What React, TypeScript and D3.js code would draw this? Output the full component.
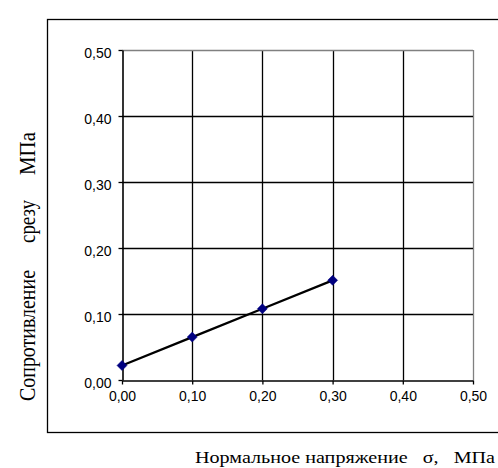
import React, { useEffect, useRef } from "react";
import * as d3 from "d3";

// normal stress sigma, MPa
const sigma = [0.0, 0.1, 0.2, 0.3];
// shear resistance, MPa
const tau = [0.022, 0.065, 0.108, 0.151];
const xTicks = [0, 0.1, 0.2, 0.3, 0.4, 0.5];
const yTicks = [0, 0.1, 0.2, 0.3, 0.4, 0.5];
const xTitle = "Нормальное напряжение   σ,   МПа";
const yTitleWords = ["Сопротивление", "срезу", "МПа"];

const fmt = (v: number) => v.toFixed(2).replace(".", ",");
const serif = "Liberation Serif, Times New Roman, serif";
const sans = "Liberation Sans, Arial, sans-serif";

const App = () => {
  const svgRef = useRef<SVGSVGElement>(null);

  useEffect(() => {
    const svg = d3.select(svgRef.current);
    svg.selectAll("*").remove();

    const W = 498;
    const H = 468;
    const plot = { left: 122, top: 50, right: 473, bottom: 380 };

    const x = d3.scaleLinear().domain([0, 0.5]).range([plot.left, plot.right]);
    const y = d3.scaleLinear().domain([0, 0.5]).range([plot.bottom, plot.top]);

    svg.attr("width", W).attr("height", H);

    // outer chart frame (right side is cut off by the picture edge)
    svg
      .append("rect")
      .attr("x", 47.5)
      .attr("y", 19.5)
      .attr("width", 470)
      .attr("height", 413)
      .attr("fill", "none")
      .attr("stroke", "#000")
      .attr("stroke-width", 1.3);

    // grid
    const grid = svg.append("g");
    xTicks.forEach((t) => {
      if (t === 0) return;
      grid
        .append("line")
        .attr("x1", Math.round(x(t)) + 0.5)
        .attr("x2", Math.round(x(t)) + 0.5)
        .attr("y1", plot.top)
        .attr("y2", plot.bottom)
        .attr("stroke", t === 0.5 ? "#808080" : "#000")
        .attr("stroke-width", 1.3);
    });
    yTicks.forEach((t) => {
      if (t === 0) return;
      grid
        .append("line")
        .attr("x1", plot.left)
        .attr("x2", plot.right)
        .attr("y1", Math.round(y(t)) + 0.5)
        .attr("y2", Math.round(y(t)) + 0.5)
        .attr("stroke", t === 0.5 ? "#808080" : "#000")
        .attr("stroke-width", 1.3);
    });

    // axes
    const yAxis = svg
      .append("g")
      .attr("transform", `translate(${plot.left + 0.5},0)`)
      .call(d3.axisLeft(y).tickValues(yTicks).tickFormat((d) => fmt(+d)).tickSize(4).tickSizeOuter(0).tickPadding(7));
    const xAxis = svg
      .append("g")
      .attr("transform", `translate(0,${plot.bottom + 0.5})`)
      .call(d3.axisBottom(x).tickValues(xTicks).tickFormat((d) => fmt(+d)).tickSize(4).tickSizeOuter(0).tickPadding(6));

    [yAxis, xAxis].forEach((a) => {
      a.attr("font-family", sans).attr("font-size", 14);
      a.select(".domain").attr("stroke", "#000").attr("stroke-width", 1.6);
      a.selectAll(".tick line").attr("stroke", "#000").attr("stroke-width", 1.3);
      a.selectAll("text").attr("fill", "#000");
    });
    yAxis.selectAll("text").attr("dy", "0.5em");
    xAxis.selectAll("text").attr("dy", "0.75em");

    // data line
    const pts = sigma.map((s, i) => [s, tau[i]] as [number, number]);
    svg
      .append("path")
      .datum(pts)
      .attr("fill", "none")
      .attr("stroke", "#000")
      .attr("stroke-width", 2.3)
      .attr(
        "d",
        d3
          .line<[number, number]>()
          .x((d) => x(d[0]))
          .y((d) => y(d[1]))
      );

    // diamond markers
    svg
      .selectAll(".pt")
      .data(pts)
      .enter()
      .append("path")
      .attr("class", "pt")
      .attr("transform", (d) => `translate(${x(d[0])},${y(d[1])})`)
      .attr("d", "M0,-5L5,0L0,5L-5,0Z")
      .attr("fill", "#000080")
      .attr("stroke", "#000080")
      .attr("stroke-width", 0.5);

    // axis titles (the source picture is stretched sideways)
    svg
      .append("text")
      .attr("x", 195)
      .attr("y", 463)
      .attr("textLength", 300)
      .attr("lengthAdjust", "spacingAndGlyphs")
      .style("white-space", "pre")
      .attr("font-family", serif)
      .attr("font-size", 16)
      .attr("fill", "#000")
      .text(xTitle);

    // y title words: [start y, length along the axis]
    const wordPos: [number, number][] = [
      [401, 131],
      [243, 43],
      [175, 43],
    ];
    yTitleWords.forEach((w, i) => {
      svg
        .append("text")
        .attr("transform", `translate(35,${wordPos[i][0]}) scale(1.5,1) rotate(-90)`)
        .attr("textLength", wordPos[i][1])
        .attr("lengthAdjust", "spacingAndGlyphs")
        .attr("font-family", serif)
        .attr("font-size", 16)
        .attr("fill", "#000")
        .text(w);
    });
  }, []);

  return (
    <div style={{ position: "absolute", left: 0, top: 0, background: "#fff" }}>
      <svg ref={svgRef} width={498} height={468} style={{ display: "block" }}></svg>
    </div>
  );
};

export default App;
